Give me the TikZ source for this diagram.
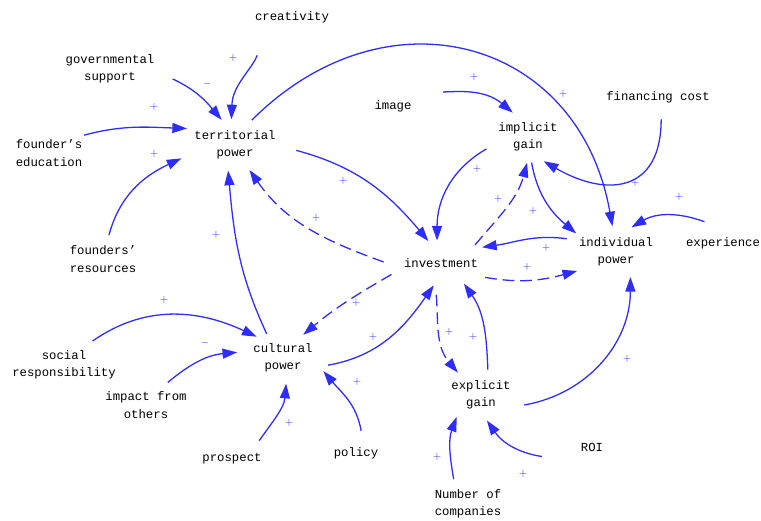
\documentclass[tikz,border=0pt]{standalone}
\usepackage{fontspec}
\setmonofont{Liberation Mono}
\usetikzlibrary{arrows.meta,shapes.geometric}
\definecolor{linkblue}{RGB}{45,45,255}
\tikzset{
  var/.style={ellipse, inner sep=3pt, minimum height=38pt, align=center,
    font=\ttfamily\fontsize{10.5}{15}\selectfont},
  link/.style={draw=linkblue, line width=1.1pt, -{Triangle[length=12.5pt,width=8.5pt]}},
  dlink/.style={link, dash pattern=on 10pt off 5pt},
  pol/.style={text=linkblue, font=\fontsize{9}{9}\selectfont, inner sep=0pt}
}
\begin{document}
\begin{tikzpicture}[x=0.03cm, y=0.03cm]
  \useasboundingbox (0,0) rectangle (761,-520);
  % variables
  \node[var] (creat) at (292,-17) {creativity};
  \node[var] (gov) at (110,-69) {governmental\\support};
  \node[var] (edu) at (49,-153) {founder’s\\education};
  \node[var] (terr) at (235,-145) {territorial\\power};
  \node[var] (res) at (103,-259) {founders’\\resources};
  \node[var] (image) at (393,-106) {image};
  \node[var] (impl) at (528,-137) {implicit\\gain};
  \node[var] (fin) at (658,-97) {financing cost};
  \node[var] (indiv) at (616,-252) {individual\\power};
  \node[var] (exper) at (723,-243) {experience};
  \node[var] (inv) at (441,-263) {investment};
  \node[var] (cult) at (283,-358) {cultural\\power};
  \node[var] (soc) at (64,-365) {social\\responsibility};
  \node[var] (impact) at (146,-405) {impact from\\others};
  \node[var] (prosp) at (232,-459) {prospect};
  \node[var] (policy) at (356,-453) {policy};
  \node[var] (expl) at (481,-395) {explicit\\gain};
  \node[var] (roi) at (592,-447) {ROI};
  \node[var] (num) at (468,-504) {Number of\\companies};

  % links into territorial power
  \draw[link, shorten <=17pt] (creat.215) to[out=250,in=88] (terr.98);
  \draw[link] (gov.351) to[out=-25,in=130] (terr.118);
  \draw[link] (edu.27) to[out=15,in=178] (terr.161);
  \draw[link] (res.76) to[out=75,in=205] (terr.194);
  \draw[link] (cult.124) to[out=115,in=-85] (terr.255);
  \draw[dlink] (inv.179) to[out=160,in=-55] (terr.-60);
  % territorial power out
  \draw[link] (terr.56) to[out=45,in=100,looseness=1.3] (indiv.98);
  \draw[link] (terr.-5) to[out=-15,in=130] (inv.120);
  % implicit gain
  \draw[link, shorten <=22pt] (image.30) to[out=0,in=140] (impl.122);
  \draw[link] (impl.196) to[out=210,in=90] (inv.100);
  \draw[link] (fin.278) to[out=270,in=-30,looseness=1.5] (impl.-57);
  \draw[link] (impl.278) to[out=280,in=140] (indiv.155);
  \draw[dlink] (inv.28) to[out=50,in=255] (impl.268);
  % individual power
  \draw[link] (indiv.165) to[out=172,in=8] (inv.21);
  \draw[dlink] (inv.-18) to[out=-10,in=195] (indiv.206);
  \draw[link] (exper.131) to[out=160,in=30] (indiv.58);
  % cultural power
  \draw[dlink] (inv.193) to[out=210,in=40] (cult.49);
  \draw[link] (cult.-9) to[out=10,in=235] (inv.252);
  \draw[link] (soc.40) to[out=35,in=155] (cult.141);
  \draw[link] (impact.46) to[out=40,in=185] (cult.173);
  \draw[link] (prosp.34) to[out=55,in=265] (cult.277);
  \draw[link] (policy.77) to[out=100,in=-50] (cult.-18);
  % explicit gain
  \draw[dlink, shorten <=8pt] (inv.256) to[out=275,in=130] (expl.136);
  \draw[link] (expl.75) to[out=92,in=-55] (inv.-42);
  \draw[link] (expl.-13) to[out=10,in=270] (indiv.-60);
  \draw[link] (num.120) to[out=100,in=250] (expl.222);
  \draw[link, shorten <=28pt] (roi.215) to[out=175,in=-55] (expl.283);

  % polarities
  \foreach \px/\py/\s [count=\i] in {233/58/+, 207/84/-, 154/107/+, 154/154/+,
      563/94/+, 343/181/+, 316/218/+, 216/235/+, 474/77/+, 477/169/+,
      635/183/+, 533/211/+, 498/199/+, 546/248/+, 527/267/+, 679/197/+,
      356/303/+, 373/337/+, 164/300/+, 205/343/-, 289/423/+, 357/382/+,
      449/332/+, 473/337/+, 627/359/+, 437/457/+, 523/474/+}
    \node[pol] (pol\i) at (\px,-\py) {$\mathbf{\s}$};
\end{tikzpicture}
\end{document}
